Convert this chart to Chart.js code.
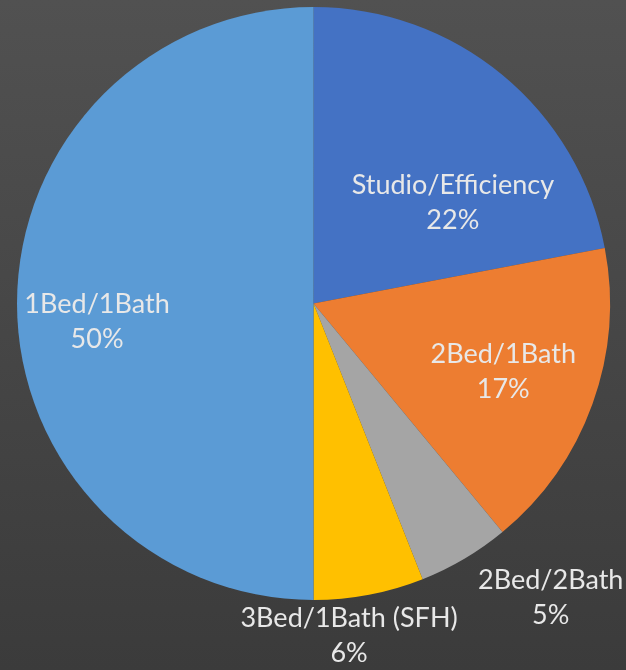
<!DOCTYPE html>
<html>
<head>
<meta charset="utf-8">
<script src="https://cdn.jsdelivr.net/npm/chart.js@4.4.0/dist/chart.umd.min.js"></script>
<style>
  html, body { margin: 0; padding: 0; }
  body {
    width: 626px; height: 670px; overflow: hidden;
    background: linear-gradient(180deg, #515151 0%, #464646 50%, #3b3b3b 100%);
  }
  #wrap { position: relative; width: 626px; height: 670px; }
</style>
</head>
<body>
<div id="wrap"><canvas id="unitMix"></canvas></div>
<script>
const categories = ["Studio/Efficiency", "2Bed/1Bath", "2Bed/2Bath", "3Bed/1Bath (SFH)", "1Bed/1Bath"];
const shares = [22, 17, 5, 6, 50];
const sliceColors = ["#4472c4", "#ed7d31", "#a5a5a5", "#ffc000", "#5b9bd5"];

// where each label sits, relative to pie centre, in units of radius
const labelOffsets = [
  [0.47, -0.34],
  [0.64, 0.23],
  [0.80, 0.99],
  [0.12, 1.12],
  [-0.73, 0.06],
];

const ctx = document.getElementById("unitMix").getContext("2d");

// draws "name / percent" as two centred lines
const sliceLabels = {
  id: "sliceLabels",
  afterDatasetsDraw(chart) {
    const meta = chart.getDatasetMeta(0);
    const c = chart.ctx;
    c.save();
    c.font = "27px Lato, 'Open Sans', sans-serif";
    c.fillStyle = "#e8e8e8";
    c.textAlign = "center";
    c.textBaseline = "middle";
    meta.data.forEach((arc, i) => {
      const r = arc.outerRadius;
      const x = arc.x + labelOffsets[i][0] * r;
      const y = arc.y + labelOffsets[i][1] * r;
      c.fillText(categories[i], x, y - 17);
      c.fillText(shares[i] + "%", x, y + 18);
    });
    c.restore();
  },
};

new Chart(ctx, {
  type: "pie",
  data: {
    labels: categories,
    datasets: [{
      data: shares,
      backgroundColor: sliceColors,
      borderWidth: 0,
    }],
  },
  options: {
    responsive: true,
    maintainAspectRatio: false,
    animation: false,
    layout: { padding: { left: 17, right: 16, top: 7, bottom: 70 } },
    plugins: {
      legend: { display: false },
      tooltip: { enabled: false },
    },
  },
  plugins: [sliceLabels],
});
</script>
</body>
</html>
